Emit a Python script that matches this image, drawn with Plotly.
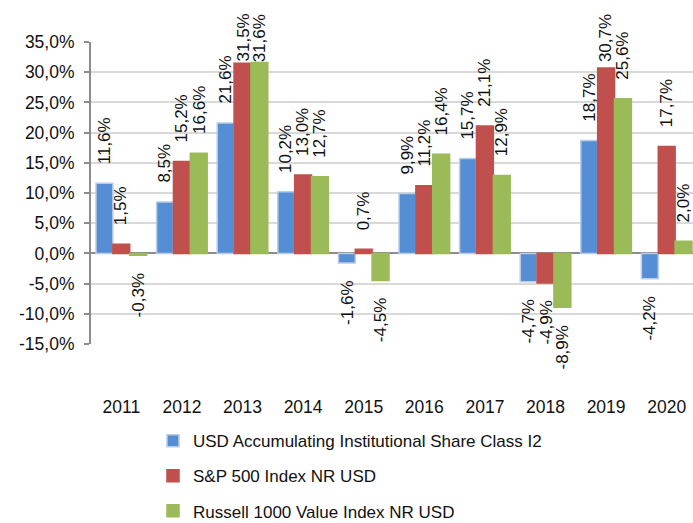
import plotly.graph_objects as go

years = ["2011", "2012", "2013", "2014", "2015", "2016", "2017", "2018", "2019", "2020"]
usd_i2 = [11.6, 8.5, 21.6, 10.2, -1.6, 9.9, 15.7, -4.7, 18.7, -4.2]
sp500 = [1.5, 15.2, 31.5, 13.0, 0.7, 11.2, 21.1, -4.9, 30.7, 17.7]
russell = [-0.3, 16.6, 31.6, 12.7, -4.5, 16.4, 12.9, -8.9, 25.6, 2.0]

series_names = [
    "USD Accumulating Institutional Share Class I2",
    "S&P 500 Index NR USD",
    "Russell 1000 Value Index NR USD",
]
series_values = [usd_i2, sp500, russell]
colors = ["#558ED5", "#C0504D", "#9BBB59"]
line_colors = ["#B9CDE5", "#C0504D", "#9BBB59"]

y_tickvals = [-15, -10, -5, 0, 5, 10, 15, 20, 25, 30, 35]
y_ticktext = ["-15,0%", "-10,0%", "-5,0%", "0,0%", "5,0%", "10,0%", "15,0%",
              "20,0%", "25,0%", "30,0%", "35,0%"]

FONT = "Liberation Sans, Arial, sans-serif"
TXT = "#111111"
GRID = "#D9D9D9"
AXIS = "#8C8C8C"

W, H = 693, 523
ML, MR, MT, MB = 91, 0, 42, 179
plot_h = H - MT - MB
y_min, y_max = -15, 35
bargap = 0.165
cat_px = 60.6
x_end = -0.5 + (W - ML - MR) / cat_px


def fmt(v):
    return f"{v:.1f}".replace(".", ",") + "%"


fig = go.Figure()
for name, vals, c, lc in zip(series_names, series_values, colors, line_colors):
    fig.add_trace(go.Bar(
        x=years, y=vals, name=name,
        marker=dict(color=c, line=dict(color=lc, width=1.5)),
        legendgroup=name, hoverinfo="skip",
    ))

# Rotated data labels
bw = (1 - bargap) / 3
gap = 18
label_len = 50
top_room = MT - 13
annotations = []
for j, vals in enumerate(series_values):
    for i, v in enumerate(vals):
        xpos = i + (j - 1) * bw
        if v >= 0:
            d = (y_max - v) / (y_max - y_min) * plot_h
            ys = min(gap, d + top_room - label_len)
            annotations.append(dict(
                x=xpos, y=v, xref="x", yref="y", text=fmt(v), showarrow=False,
                textangle=-90, yanchor="bottom", xanchor="center", yshift=ys,
                borderpad=0, font=dict(family=FONT, size=17, color=TXT)))
        else:
            annotations.append(dict(
                x=xpos, y=v, xref="x", yref="y", text=fmt(v), showarrow=False,
                textangle=-90, yanchor="top", xanchor="center", yshift=-gap + 1,
                borderpad=0, font=dict(family=FONT, size=17, color=TXT)))

fig.update_layout(
    width=W, height=H,
    margin=dict(l=ML, r=MR, t=MT, b=MB, autoexpand=False),
    paper_bgcolor="white", plot_bgcolor="white",
    barmode="group", bargap=bargap, bargroupgap=0,
    font=dict(family=FONT, size=17, color=TXT),
    annotations=annotations,
    showlegend=True,
    legend=dict(
        orientation="v", x=0.103, xanchor="left", y=-0.262, yanchor="top",
        font=dict(family=FONT, size=17, color=TXT),
        tracegroupgap=10, bgcolor="rgba(0,0,0,0)",
    ),
    xaxis=dict(
        type="category", range=[-0.5, x_end], showgrid=False,
        showline=False, ticks="", ticklabelstandoff=50,
        tickfont=dict(family=FONT, size=17.5, color=TXT), automargin=False,
        fixedrange=True,
    ),
    xaxis2=dict(
        overlaying="x", anchor="free",
        position=(0 - y_min) / (y_max - y_min),
        range=[-0.5, x_end], type="linear",
        tickvals=[i + 0.5 for i in range(-1, len(years))],
        showticklabels=False, ticks="outside", ticklen=5, tickwidth=2,
        tickcolor=AXIS, showline=False, showgrid=False, zeroline=False,
        automargin=False, fixedrange=True,
    ),
    yaxis=dict(
        range=[y_min, y_max], tickvals=y_tickvals, ticktext=y_ticktext,
        showgrid=True, gridcolor=GRID, gridwidth=2,
        zeroline=True, zerolinecolor=AXIS, zerolinewidth=2,
        showline=True, linecolor=AXIS, linewidth=2,
        ticks="outside", ticklen=5, tickwidth=2, tickcolor=AXIS,
        ticklabelstandoff=6, fixedrange=True,
        tickfont=dict(family=FONT, size=17.5, color=TXT), automargin=False,
    ),
)

fig.write_html(
    "out.html",
    config={"displayModeBar": False, "staticPlot": False},
    post_script="document.body.style.margin='0';document.body.style.overflow='hidden';",
)
